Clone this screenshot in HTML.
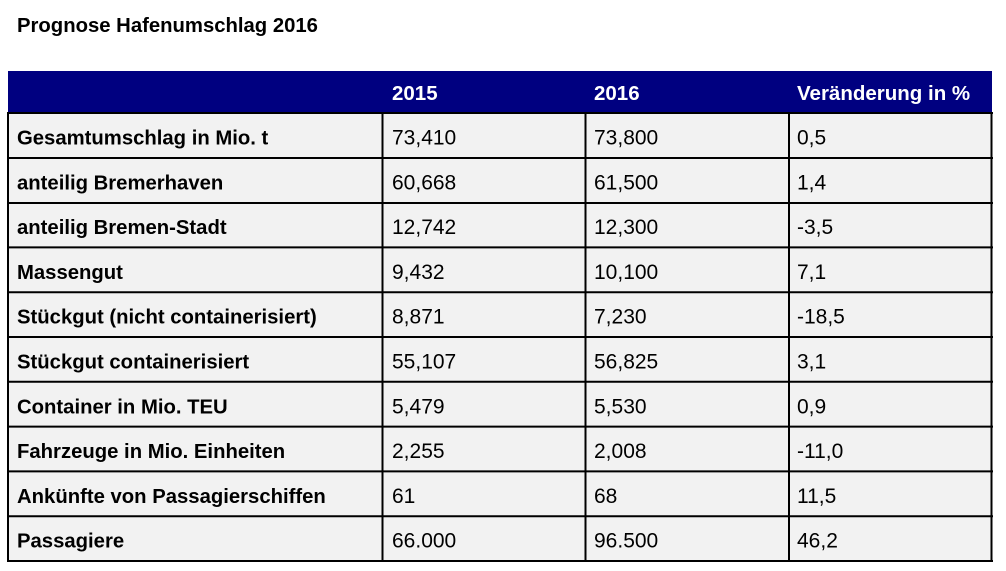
<!DOCTYPE html>
<html>
<head>
<meta charset="utf-8">
<style>
  html, body { margin:0; padding:0; background:#ffffff; }
  body { width:1006px; height:571px; overflow:hidden; }
  svg { display:block; }
  text { font-family: "Liberation Sans", Arial, sans-serif; }
  .lab { font-weight:bold; font-size:20.3px; fill:#000; }
  .num { font-size:21px; fill:#000; }
  .hd { font-weight:bold; font-size:20.5px; fill:#fff; }
</style>
</head>
<body>
<svg width="1006" height="571" viewBox="0 0 1006 571" xmlns="http://www.w3.org/2000/svg">
  <rect x="0" y="0" width="1006" height="571" fill="#ffffff"/>
  <text x="17" y="32" style="font-size:20.3px;font-weight:bold;fill:#000">Prognose Hafenumschlag 2016</text>

  <!-- header -->
  <rect x="8" y="71" width="984" height="42" fill="#000080"/>
  <text class="hd" x="392" y="100">2015</text>
  <text class="hd" x="594" y="100">2016</text>
  <text class="hd" x="797" y="100">Veränderung in %</text>

  <!-- body bg -->
  <rect x="8" y="113" width="984" height="449" fill="#f2f2f2"/>

  <!-- lines -->
  <g stroke="#000" stroke-width="2">
    <line x1="7" x2="993" y1="113" y2="113"/>
    <line x1="7" x2="993" y1="158" y2="158"/>
    <line x1="7" x2="993" y1="203" y2="203"/>
    <line x1="7" x2="993" y1="247.4" y2="247.4"/>
    <line x1="7" x2="993" y1="292.2" y2="292.2"/>
    <line x1="7" x2="993" y1="337" y2="337"/>
    <line x1="7" x2="993" y1="381.8" y2="381.8"/>
    <line x1="7" x2="993" y1="426.6" y2="426.6"/>
    <line x1="7" x2="993" y1="471.4" y2="471.4"/>
    <line x1="7" x2="993" y1="516.2" y2="516.2"/>
    <line x1="7" x2="993" y1="561" y2="561"/>
    <line x1="8" x2="8" y1="112" y2="562"/>
    <line x1="382.5" x2="382.5" y1="112" y2="562"/>
    <line x1="585.5" x2="585.5" y1="112" y2="562"/>
    <line x1="789" x2="789" y1="112" y2="562"/>
    <line x1="991.5" x2="991.5" y1="112" y2="562"/>
  </g>

  <!-- rows -->
  <g>
    <text class="lab" x="17" y="144.5">Gesamtumschlag in Mio. t</text>
    <text class="num" x="392" y="144.5">73,410</text>
    <text class="num" x="594" y="144.5">73,800</text>
    <text class="num" x="797" y="144.5">0,5</text>

    <text class="lab" x="17" y="189.3">anteilig Bremerhaven</text>
    <text class="num" x="392" y="189.3">60,668</text>
    <text class="num" x="594" y="189.3">61,500</text>
    <text class="num" x="797" y="189.3">1,4</text>

    <text class="lab" x="17" y="234.1">anteilig Bremen-Stadt</text>
    <text class="num" x="392" y="234.1">12,742</text>
    <text class="num" x="594" y="234.1">12,300</text>
    <text class="num" x="797" y="234.1">-3,5</text>

    <text class="lab" x="17" y="278.9">Massengut</text>
    <text class="num" x="392" y="278.9">9,432</text>
    <text class="num" x="594" y="278.9">10,100</text>
    <text class="num" x="797" y="278.9">7,1</text>

    <text class="lab" x="17" y="323.7">Stückgut (nicht containerisiert)</text>
    <text class="num" x="392" y="323.7">8,871</text>
    <text class="num" x="594" y="323.7">7,230</text>
    <text class="num" x="797" y="323.7">-18,5</text>

    <text class="lab" x="17" y="368.5">Stückgut containerisiert</text>
    <text class="num" x="392" y="368.5">55,107</text>
    <text class="num" x="594" y="368.5">56,825</text>
    <text class="num" x="797" y="368.5">3,1</text>

    <text class="lab" x="17" y="413.3">Container in Mio. TEU</text>
    <text class="num" x="392" y="413.3">5,479</text>
    <text class="num" x="594" y="413.3">5,530</text>
    <text class="num" x="797" y="413.3">0,9</text>

    <text class="lab" x="17" y="458.1">Fahrzeuge in Mio. Einheiten</text>
    <text class="num" x="392" y="458.1">2,255</text>
    <text class="num" x="594" y="458.1">2,008</text>
    <text class="num" x="797" y="458.1">-11,0</text>

    <text class="lab" x="17" y="502.9">Ankünfte von Passagierschiffen</text>
    <text class="num" x="392" y="502.9">61</text>
    <text class="num" x="594" y="502.9">68</text>
    <text class="num" x="797" y="502.9">11,5</text>

    <text class="lab" x="17" y="547.7">Passagiere</text>
    <text class="num" x="392" y="547.7">66.000</text>
    <text class="num" x="594" y="547.7">96.500</text>
    <text class="num" x="797" y="547.7">46,2</text>
  </g>
</svg>
</body>
</html>
